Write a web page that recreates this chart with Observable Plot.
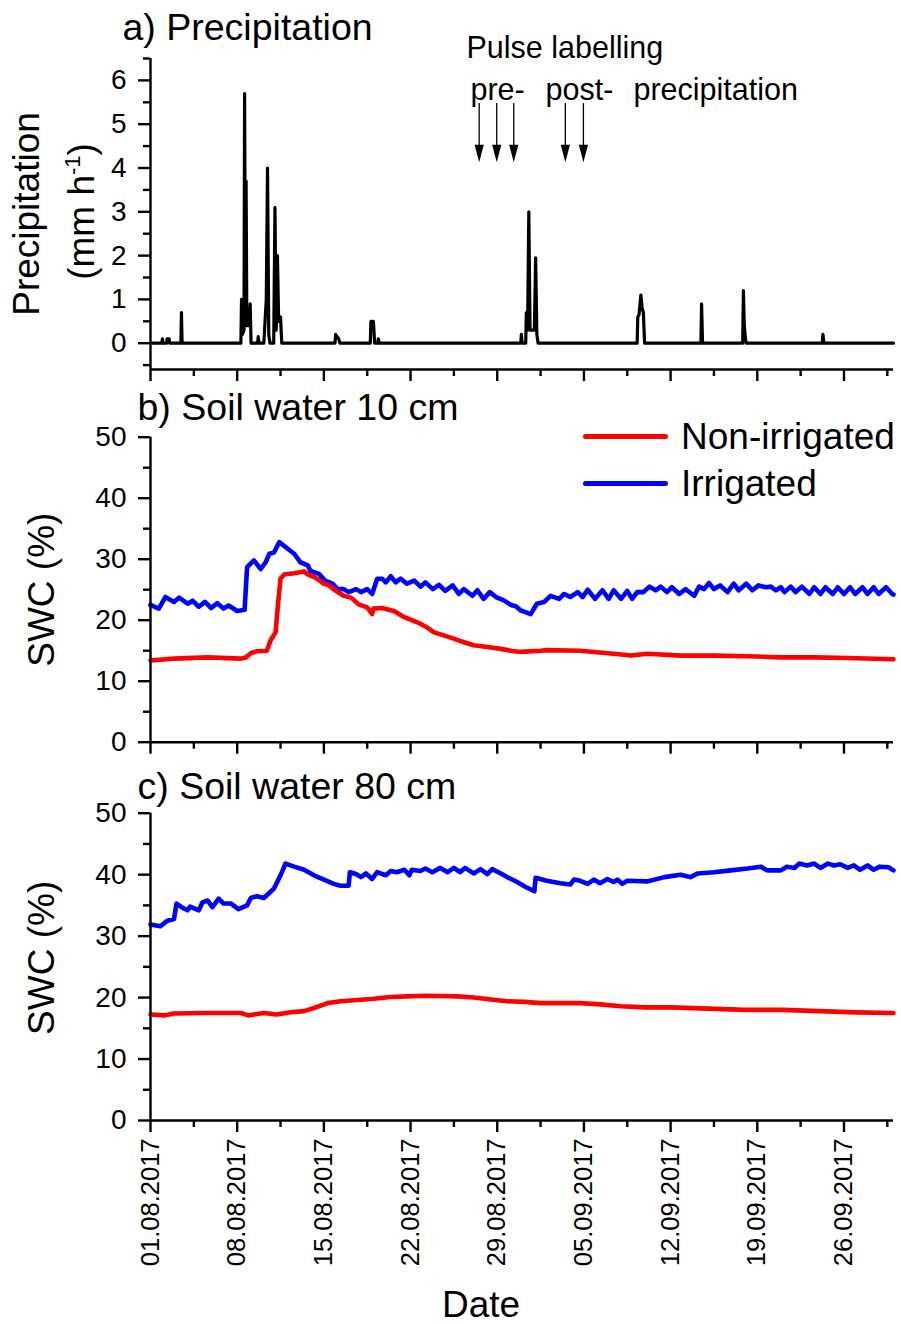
<!DOCTYPE html>
<html><head><meta charset="utf-8">
<script src="https://cdn.jsdelivr.net/npm/d3@7"></script>
<script src="https://cdn.jsdelivr.net/npm/@observablehq/plot@0.6"></script>
<style>
body{margin:0;background:#fff;}
#fig{position:relative;width:901px;height:1324px;overflow:hidden;background:#fff;font-family:"Liberation Sans",Arial,sans-serif;}
#fig svg{position:absolute;left:0;}
.legline{position:absolute;height:5px;border-radius:2.5px;}
.legtext{position:absolute;font-size:37px;line-height:1;color:#000;white-space:nowrap;}
</style></head><body><div id="fig"></div>
<script>
// ---------- DATA ----------
const xTickLabels = ["01.08.2017","08.08.2017","15.08.2017","22.08.2017","29.08.2017","05.09.2017","12.09.2017","19.09.2017","26.09.2017"];
const xStartLabel = "01.08.2017", xEndLabel = "30.09.2017";
const precipTicks = [0,1,2,3,4,5,6];
const precipMinorTicks = [-0.5,0.5,1.5,2.5,3.5,4.5,5.5,6.5];
const swcTicks = [0,10,20,30,40,50];
const swcMinorTicks = [5,15,25,35,45];
// day offset since 01.08.2017 00:00, precipitation (mm h-1)
const precip = [[0,0],[0.92,0],[0.96,0.1],[1.0,0],[1.3,0],[1.34,0.1],[1.5,0.1],[1.55,0],[2.45,0],[2.5,0.7],[2.55,0],
 [7.3,0],[7.35,1.0],[7.42,0.2],[7.55,0.3],[7.6,5.7],[7.66,0.5],[7.72,3.7],[7.78,0.4],[7.95,0.4],[8.05,0.9],[8.12,0],[8.65,0],[8.7,0.15],[8.75,0],
 [9.15,0],[9.25,0.5],[9.35,1.0],[9.45,4.0],[9.55,0.2],[9.65,0],[9.95,0],[10.05,3.1],[10.15,0.3],[10.25,2.0],[10.35,0.5],[10.5,0.6],[10.6,0],
 [14.9,0],[14.95,0.2],[15.05,0.15],[15.2,0.1],[15.3,0],[17.75,0],[17.8,0.5],[18.0,0.5],[18.1,0],[18.35,0],[18.4,0.1],[18.45,0],
 [29.9,0],[29.95,0.2],[30.0,0],[30.3,0],[30.35,0.7],[30.45,0.3],[30.55,3.0],[30.65,0.3],[31.0,0.3],[31.1,1.95],[31.2,0.2],[31.3,0],
 [39.3,0],[39.35,0.6],[39.45,0.65],[39.6,1.1],[39.7,0.8],[39.8,0.7],[39.9,0],[44.45,0],[44.5,0.9],[44.58,0],
 [47.82,0],[47.88,1.2],[47.95,0.4],[48.05,0.1],[48.1,0],[54.25,0],[54.3,0.2],[54.38,0],[60,0]];
const pulseDates = ["2017-08-27T13:00Z","2017-08-28T23:00Z","2017-08-30T08:00Z","2017-09-03T12:00Z","2017-09-04T23:00Z"];
const arrowTop = 5.47, arrowTip = 4.13;
// SWC 10 cm (day, %)
const swc10Irr = [[0,22.5],[0.67,21.9],[1.2,23.8],[1.9,23.0],[2.3,23.7],[3.0,22.7],[3.4,23.2],[3.9,22.2],[4.4,23.0],[4.9,22.0],[5.4,22.8],[5.9,21.9],[6.3,22.4],[7.0,21.5],[7.6,21.7],[7.8,28.7],[8.35,29.8],[8.9,28.4],[9.3,29.5],[9.6,30.9],[9.97,31.1],[10.4,32.8],[10.9,32.0],[11.6,30.9],[12.1,29.5],[12.7,29.0],[12.9,28.1],[13.6,27.6],[14.1,26.5],[14.7,26.0],[15.1,25.1],[15.6,25.1],[16.0,24.6],[16.6,25.1],[17.0,24.6],[17.5,25.1],[17.9,24.3],[18.3,26.8],[18.7,26.8],[19.0,26.2],[19.4,27.2],[19.8,26.2],[20.2,26.8],[20.7,26.0],[21.3,26.5],[21.8,25.5],[22.2,26.2],[22.8,25.1],[23.3,25.8],[23.8,24.8],[24.4,25.7],[24.9,24.3],[25.3,25.1],[26.0,24.0],[26.4,24.9],[26.9,23.5],[27.4,24.6],[27.9,23.8],[28.5,23.3],[29.1,22.5],[29.5,22.3],[29.9,21.6],[30.7,21.0],[31.2,22.7],[31.8,23.0],[32.3,24.0],[33.0,23.5],[33.4,24.3],[33.9,23.8],[34.5,24.6],[34.9,23.8],[35.3,25.0],[35.9,23.5],[36.5,24.9],[37.0,23.5],[37.4,24.9],[38.0,23.5],[38.5,24.8],[38.9,23.5],[39.3,24.6],[39.8,24.6],[40.3,25.5],[40.8,24.9],[41.2,25.5],[41.7,24.6],[42.1,25.4],[42.7,24.3],[43.2,25.1],[43.9,24.0],[44.3,25.5],[44.7,25.1],[45.1,26.1],[45.5,25.1],[46.0,25.7],[46.6,24.6],[47.1,26.0],[47.5,24.9],[48.1,26.0],[48.6,24.9],[49.1,25.7],[49.7,25.4],[50.1,25.5],[50.5,24.9],[50.9,25.4],[51.2,24.6],[51.7,25.5],[52.1,24.6],[52.6,25.5],[53.2,24.3],[53.6,25.4],[54.1,24.3],[54.5,25.4],[55.1,24.3],[55.5,25.4],[56.0,24.3],[56.5,25.4],[56.9,24.3],[57.5,25.4],[57.9,24.3],[58.4,25.4],[58.8,24.3],[59.4,25.4],[59.9,24.3],[60,24.2]];
const swc10Non = [[0,13.4],[1.9,13.7],[4.6,13.9],[7.3,13.7],[7.7,13.9],[8.1,14.6],[8.6,14.9],[9.4,15.0],[9.7,16.7],[10.1,18.0],[10.3,22.7],[10.5,26.8],[10.8,27.5],[11.6,27.7],[12.4,28.0],[12.7,27.5],[13.3,27.0],[13.9,26.1],[14.4,25.7],[14.9,24.9],[15.6,24.0],[16.2,23.7],[16.8,22.6],[17.5,22.1],[17.9,21.0],[18.0,21.9],[18.7,22.0],[19.65,21.5],[20.5,20.5],[21.5,19.7],[22.35,18.8],[22.9,18.0],[24.0,17.3],[25.0,16.6],[26.1,15.9],[27.2,15.6],[28.3,15.3],[29.1,15.0],[29.9,14.8],[31.5,15.0],[32.0,15.1],[34.7,15.0],[37.4,14.5],[38.8,14.2],[40.1,14.5],[42.8,14.2],[45.5,14.2],[48.2,14.1],[50.9,13.9],[53.6,13.9],[56.3,13.8],[60,13.6]];
// SWC 80 cm (day, %)
const swc80Irr = [[0,31.9],[0.8,31.6],[1.35,32.5],[1.9,32.8],[2.1,35.3],[2.6,34.6],[3.0,34.2],[3.2,34.8],[3.9,34.2],[4.2,35.5],[4.6,35.8],[5.0,34.7],[5.5,36.1],[5.9,35.3],[6.5,35.3],[7.1,34.4],[7.8,35.0],[8.1,36.2],[8.6,36.5],[9.15,36.2],[9.96,37.7],[10.5,39.9],[10.9,41.8],[11.6,41.3],[12.4,40.8],[13.2,39.9],[14.0,39.2],[14.8,38.5],[15.35,38.2],[16.0,38.2],[16.1,40.4],[16.6,40.1],[17.0,39.6],[17.4,40.2],[17.9,39.3],[18.3,40.4],[19.0,39.9],[19.4,40.6],[19.9,40.4],[20.5,40.8],[20.9,39.9],[21.1,40.8],[21.8,40.6],[22.2,41.0],[22.75,40.4],[23.4,41.1],[24.0,40.4],[24.5,41.1],[25.0,40.4],[25.4,41.1],[26.1,40.2],[26.65,40.9],[27.2,40.1],[27.6,40.9],[28.1,40.4],[28.8,39.6],[29.6,38.8],[30.3,38.0],[31.0,37.3],[31.1,39.5],[32.0,39.0],[33.1,38.6],[33.9,38.4],[34.2,39.2],[34.7,39.0],[35.3,38.5],[35.8,39.2],[36.3,38.6],[36.9,39.3],[37.4,38.8],[37.7,39.2],[38.1,38.5],[38.5,39.0],[40.1,38.9],[41.5,39.6],[42.8,40.0],[43.6,39.6],[44.2,40.2],[45.5,40.4],[46.85,40.7],[48.2,41.0],[49.3,41.3],[49.8,40.7],[50.9,40.7],[51.4,41.3],[52.0,41.1],[52.4,41.8],[53.0,41.5],[53.6,41.8],[54.1,41.1],[54.7,41.8],[55.2,41.5],[55.7,41.7],[56.3,41.1],[56.8,41.5],[57.3,40.8],[57.9,41.5],[58.4,40.8],[58.9,41.3],[59.6,41.2],[60,40.7]];
const swc80Non = [[0,17.25],[1.1,17.1],[1.9,17.4],[4.6,17.5],[7.3,17.5],[7.9,17.1],[9.15,17.5],[10.2,17.25],[11.3,17.6],[12.4,17.8],[13.2,18.3],[14.3,19.1],[15.35,19.4],[16.7,19.6],[18.0,19.8],[19.4,20.1],[20.7,20.2],[22.1,20.3],[23.4,20.25],[24.8,20.2],[26.1,20.0],[27.5,19.7],[28.8,19.4],[30.2,19.3],[31.5,19.1],[34.7,19.1],[36.3,18.9],[38.0,18.6],[40.0,18.4],[42.0,18.4],[45.0,18.2],[48.0,18.0],[51.0,18.0],[54.0,17.8],[57.0,17.6],[60,17.5]];
const seriesNames = ["Non-irrigated","Irrigated"];
const seriesColors = ["#ff0000","#0000ff"];

// ---------- HELPERS ----------
const parse = d3.utcParse("%d.%m.%Y"), fmt = d3.utcFormat("%d.%m.%Y");
const t0 = parse(xStartLabel);
const toDate = d => new Date(+t0 + d * 864e5);
const xDomain = [t0, parse(xEndLabel)];
const majorDates = xTickLabels.map(parse);
const minorDates = majorDates.map(d => new Date(+d + 3.5 * 864e5));
const FONT = "'Liberation Sans', Arial, sans-serif";
const AX = 2.4;
const fig = document.getElementById("fig");

function panel(o) {
  const svg = Plot.plot({
    width: 901, height: o.height, marginLeft: 150, marginRight: 8, marginTop: o.mt, marginBottom: o.mb,
    x: {type: "utc", domain: xDomain},
    y: {domain: o.yDomain},
    style: {fontFamily: FONT, fontSize: "28px", color: "#000", background: "transparent"},
    marks: [
      ...o.marks,
      Plot.axisY({ticks: o.yTicks, tickSize: 12, tickPadding: 12, strokeWidth: AX, fontSize: 28, label: null, tickFormat: d => String(d)}),
      Plot.axisY({ticks: o.yMinor, tickSize: 7, strokeWidth: AX, fill: "none", label: null}),
      o.xLabels
        ? Plot.axisX({ticks: majorDates, tickSize: 12, tickPadding: 6, tickRotate: -90, fontSize: 25.5, tickFormat: fmt, strokeWidth: AX, label: null})
        : Plot.axisX({ticks: majorDates, tickSize: 12, strokeWidth: AX, fill: "none", label: null}),
      Plot.axisX({ticks: minorDates, tickSize: 7, strokeWidth: AX, fill: "none", label: null}),
      Plot.ruleX([xDomain[0]], {strokeWidth: AX}),
      Plot.ruleY([o.yDomain[0]], {strokeWidth: AX}),
      Plot.text([o.title], {frameAnchor: "top-left", dx: o.titleDx, dy: o.titleDy, textAnchor: "start", lineAnchor: "middle", fontSize: 37.5}),
      ...(o.extra || [])
    ]
  });
  svg.style.top = o.top + "px";
  fig.appendChild(svg);
  return svg;
}

const triangleDown = {draw(ctx) { ctx.moveTo(-4.6, -17.5); ctx.lineTo(4.6, -17.5); ctx.lineTo(0, 0); ctx.closePath(); }};
const pulse = pulseDates.map(s => new Date(s));

// Panel a
const svgA = panel({
  top: 0, height: 385, mt: 58, mb: 16, yDomain: [-0.6, 6.5], yTicks: precipTicks, yMinor: precipMinorTicks,
  title: "a) Precipitation", titleDx: -28, titleDy: -31,
  marks: [
    Plot.line(precip, {x: d => toDate(d[0]), y: d => d[1], stroke: "#000", strokeWidth: 3.2}),
    Plot.ruleX(pulse, {x: d => d, y1: arrowTop, y2: arrowTip + 0.3, stroke: "#000", strokeWidth: 1.3}),
    Plot.dot(pulse, {x: d => d, y: arrowTip, symbol: triangleDown, fill: "#000", stroke: "none"})
  ],
  extra: [
    Plot.text(["Pulse labelling"], {frameAnchor: "top-left", dx: 316, dy: -10, textAnchor: "start", lineAnchor: "middle", fontSize: 30.5}),
    Plot.text(["pre-"], {frameAnchor: "top-left", dx: 320, dy: 32, textAnchor: "start", lineAnchor: "middle", fontSize: 30.5}),
    Plot.text(["post-"], {frameAnchor: "top-left", dx: 395, dy: 32, textAnchor: "start", lineAnchor: "middle", fontSize: 30.5}),
    Plot.text(["precipitation"], {frameAnchor: "top-left", dx: 483, dy: 32, textAnchor: "start", lineAnchor: "middle", fontSize: 30.5}),
    Plot.text(["Precipitation"], {frameAnchor: "left", dx: -123, rotate: -90, textAnchor: "middle", lineAnchor: "middle", fontSize: 37})
  ]
});
const lab = d3.select(svgA).append("text").attr("transform", "translate(94,211.5) rotate(-90)")
  .attr("text-anchor", "middle").attr("font-size", 37).attr("fill", "#000").attr("font-family", FONT);
lab.append("tspan").text("(mm h");
lab.append("tspan").attr("font-size", 22).attr("dy", -14).text("-1");
lab.append("tspan").attr("dy", 14).text(")");

// Panel b
panel({
  top: 385, height: 375, mt: 51.7, mb: 18.3, yDomain: [0, 50], yTicks: swcTicks, yMinor: swcMinorTicks,
  title: "b) Soil water 10 cm", titleDx: -13, titleDy: -29,
  marks: [
    Plot.line(swc10Irr, {x: d => toDate(d[0]), y: d => d[1], stroke: seriesColors[1], strokeWidth: 4.6}),
    Plot.line(swc10Non, {x: d => toDate(d[0]), y: d => d[1], stroke: seriesColors[0], strokeWidth: 4.6})
  ],
  extra: [Plot.text(["SWC (%)"], {frameAnchor: "left", dx: -108, rotate: -90, textAnchor: "middle", lineAnchor: "middle", fontSize: 37})]
});

// Panel c
panel({
  top: 760, height: 564, mt: 52.7, mb: 204, yDomain: [0, 50], yTicks: swcTicks, yMinor: swcMinorTicks, xLabels: true,
  title: "c) Soil water 80 cm", titleDx: -13, titleDy: -26,
  marks: [
    Plot.line(swc80Irr, {x: d => toDate(d[0]), y: d => d[1], stroke: seriesColors[1], strokeWidth: 4.6}),
    Plot.line(swc80Non, {x: d => toDate(d[0]), y: d => d[1], stroke: seriesColors[0], strokeWidth: 4.6})
  ],
  extra: [
    Plot.text(["SWC (%)"], {frameAnchor: "left", dx: -108, dy: -9, rotate: -90, textAnchor: "middle", lineAnchor: "middle", fontSize: 37}),
    Plot.text(["Date"], {frameAnchor: "bottom", dx: -41, dy: 185, textAnchor: "middle", lineAnchor: "middle", fontSize: 37})
  ]
});

// Legend
const legY = [436, 483];
seriesNames.forEach((name, i) => {
  const l = document.createElement("div");
  l.className = "legline";
  l.style.cssText += `left:583px;width:85px;top:${legY[i] - 2.5}px;background:${seriesColors[i]};`;
  fig.appendChild(l);
  const t = document.createElement("div");
  t.className = "legtext";
  t.style.cssText += `left:681px;top:${legY[i] - 18}px;`;
  t.textContent = name;
  fig.appendChild(t);
});
</script></body></html>
